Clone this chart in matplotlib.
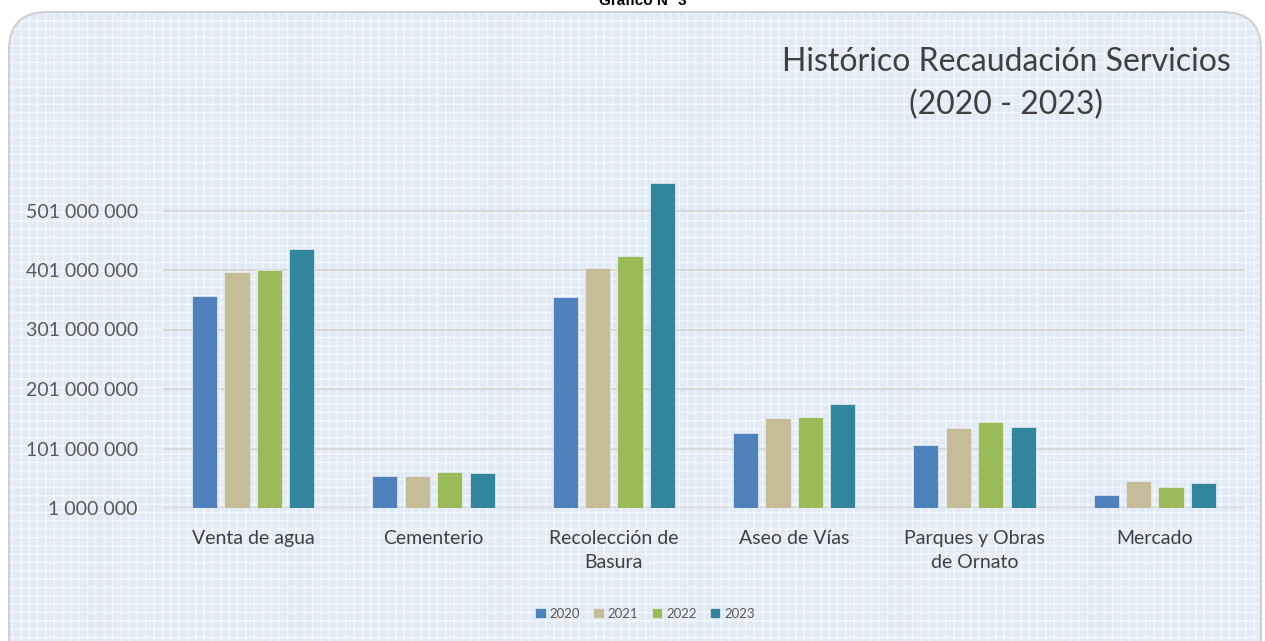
import matplotlib
matplotlib.use("Agg")
import matplotlib.pyplot as plt
import numpy as np
from matplotlib.patches import FancyBboxPatch

categories = ["Venta de agua", "Cementerio", "Recolección de\nBasura", "Aseo de Vías",
              "Parques y Obras\nde Ornato", "Mercado"]
years = ["2020", "2021", "2022", "2023"]
v2020 = [357e6, 55e6, 356e6, 127e6, 107e6, 23e6]
v2021 = [397e6, 54e6, 404e6, 152e6, 135e6, 46e6]
v2022 = [401e6, 61e6, 424e6, 154e6, 146e6, 37e6]
v2023 = [436e6, 59e6, 547e6, 176e6, 137e6, 43e6]
series = [v2020, v2021, v2022, v2023]
colors = ["#4f81bd", "#c4bd97", "#9bbb59", "#31859c"]
yticks = [1e6, 101e6, 201e6, 301e6, 401e6, 501e6]
ytick_labels = ["1 000 000", "101 000 000", "201 000 000", "301 000 000", "401 000 000", "501 000 000"]

plt.rcParams['font.family'] = ['Lato', 'DejaVu Sans']
plt.rcParams['hatch.linewidth'] = 1.0
W, H = 1265, 641
fig = plt.figure(figsize=(W / 100, H / 100), dpi=100)
fig.patch.set_facecolor("white")

# background panel
x0, y0, x1, y1 = 9 / W, 0 / H, 1261 / W, (H - 12) / H
bg = FancyBboxPatch((x0, y0 - 0.05), x1 - x0, y1 - y0 + 0.05,
                    boxstyle="round,pad=0,rounding_size=0.03",
                    transform=fig.transFigure, facecolor="#e2eaf5",
                    edgecolor="#f3f7fc", hatch="++", linewidth=0, zorder=0,
                    mutation_aspect=W / H)
fig.patches.append(bg)
border = FancyBboxPatch((x0, y0 - 0.05), x1 - x0, y1 - y0 + 0.05,
                        boxstyle="round,pad=0,rounding_size=0.03",
                        transform=fig.transFigure, facecolor="none",
                        edgecolor="#d0d0d0", linewidth=1.5, zorder=0.5,
                        mutation_aspect=W / H)
fig.patches.append(border)

fig.text(643 / W, 1 - 5 / H, "Gráfico N° 3", ha="center", va="baseline",
         fontsize=11, fontweight="bold", family="Liberation Sans", color="black")

ax = fig.add_axes([163 / W, 1 - 508 / H, (1245 - 163) / W, (508 - 151) / H], zorder=2)
ax.set_facecolor("none")
x = np.arange(len(categories))
pitch = 0.18
width = 0.14
for i, (vals, c, yr) in enumerate(zip(series, colors, years)):
    bottoms = 1e6
    ax.bar(x + (i - 1.5) * pitch, np.array(vals) - bottoms, width, bottom=bottoms,
           color=c, edgecolor="#e8eef6", linewidth=0.5, label=yr, zorder=3)

ax.set_xlim(-0.5, len(categories) - 0.5)
ax.set_ylim(1e6, 601e6)
ax.set_yticks(yticks)
ax.set_yticklabels(ytick_labels)
ax.set_xticks(x)
ax.set_xticklabels(categories, linespacing=1.5)
ax.tick_params(axis="y", length=0, pad=18, labelsize=14, labelcolor="#595959")
ax.tick_params(axis="x", length=0, pad=16, labelsize=14, labelcolor="#404040")
ax.grid(axis="y", color="#d9d9d9", linewidth=1.5, zorder=1)
for s in ax.spines.values():
    s.set_visible(False)

fig.text(1006 / W, 1 - 62 / H, "Histórico Recaudación Servicios", ha="center", va="center",
         fontsize=23, color="#404040", zorder=3)
fig.text(1006 / W, 1 - 105 / H, "(2020 - 2023)", ha="center", va="center",
         fontsize=23, color="#404040", zorder=3)

leg = fig.legend(loc="center", bbox_to_anchor=(645 / W, 1 - 614 / H), ncol=4, frameon=False,
                 fontsize=9.5, handlelength=0.8, handleheight=0.8, handletextpad=0.3,
                 columnspacing=1.0, labelcolor="#595959")
leg.set_zorder(3)

fig.savefig("out.png", dpi=100)
